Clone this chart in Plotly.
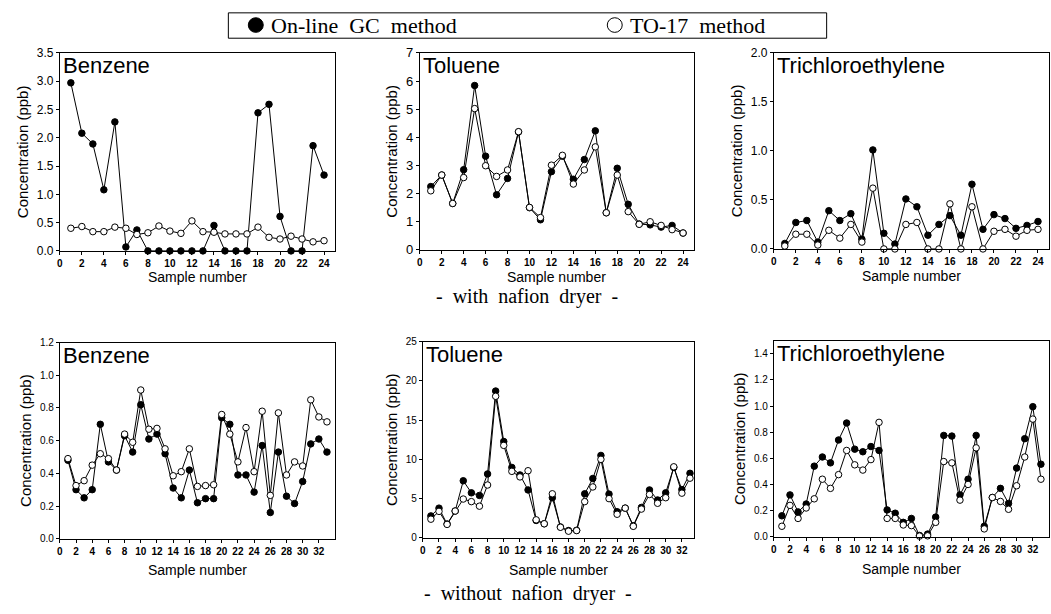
import plotly.graph_objects as go

W, H = 1051, 614

x24 = list(range(1, 25))
x33 = list(range(1, 34))

benz_top_gc = [2.97, 2.08, 1.89, 1.08, 2.28, 0.07, 0.37, 0.0, 0.0, 0.0, 0.0, 0.0, 0.0, 0.45, 0.0, 0.0, 0.0, 2.44, 2.59, 0.61, 0.0, 0.0, 1.86, 1.34]
benz_top_to = [0.40, 0.43, 0.34, 0.34, 0.42, 0.40, 0.29, 0.32, 0.44, 0.35, 0.31, 0.53, 0.34, 0.33, 0.30, 0.30, 0.30, 0.42, 0.24, 0.21, 0.26, 0.21, 0.16, 0.18]

tol_top_gc = [2.25, 2.66, 1.65, 2.85, 5.84, 3.33, 1.96, 2.54, 4.19, 1.50, 1.07, 2.78, 3.33, 2.51, 3.21, 4.23, 1.32, 2.90, 1.62, 0.92, 0.89, 0.81, 0.87, 0.60]
tol_top_to = [2.10, 2.66, 1.65, 2.57, 5.02, 2.99, 2.61, 2.84, 4.20, 1.51, 1.15, 3.01, 3.36, 2.34, 2.84, 3.66, 1.32, 2.66, 1.36, 0.91, 1.00, 0.87, 0.72, 0.60]

tce_top_gc = [0.056, 0.27, 0.29, 0.07, 0.39, 0.29, 0.36, 0.10, 1.01, 0.16, 0.05, 0.51, 0.43, 0.14, 0.25, 0.34, 0.14, 0.66, 0.20, 0.35, 0.31, 0.21, 0.24, 0.28]
tce_top_to = [0.03, 0.15, 0.15, 0.04, 0.19, 0.11, 0.25, 0.07, 0.62, 0.0, 0.0, 0.25, 0.27, 0.0, 0.0, 0.46, 0.0, 0.43, 0.0, 0.18, 0.20, 0.13, 0.19, 0.20]

benz_bot_gc = [0.48, 0.30, 0.25, 0.30, 0.70, 0.47, 0.42, 0.63, 0.53, 0.82, 0.61, 0.64, 0.52, 0.31, 0.25, 0.42, 0.22, 0.245, 0.245, 0.74, 0.70, 0.39, 0.39, 0.285, 0.57, 0.16, 0.53, 0.26, 0.215, 0.35, 0.58, 0.61, 0.53]
benz_bot_to = [0.49, 0.325, 0.355, 0.45, 0.52, 0.49, 0.42, 0.64, 0.59, 0.91, 0.67, 0.675, 0.55, 0.385, 0.41, 0.55, 0.32, 0.325, 0.33, 0.76, 0.64, 0.47, 0.68, 0.41, 0.78, 0.265, 0.77, 0.39, 0.47, 0.445, 0.85, 0.745, 0.715]

tol_bot_gc = [2.78, 3.77, 1.74, 3.40, 7.26, 5.72, 5.39, 8.13, 18.7, 12.27, 8.96, 8.00, 6.09, 2.20, 1.78, 5.10, 1.37, 0.91, 0.95, 5.60, 7.55, 10.49, 5.56, 3.32, 3.77, 1.53, 3.86, 6.09, 4.81, 5.72, 8.96, 6.14, 8.21]
tol_bot_to = [2.36, 3.36, 1.70, 3.40, 4.93, 4.60, 4.02, 6.72, 18.03, 11.77, 8.46, 7.75, 8.54, 2.28, 1.78, 5.60, 1.33, 0.83, 0.91, 4.60, 6.47, 9.99, 4.98, 2.99, 3.77, 1.45, 3.65, 5.51, 4.39, 5.10, 9.04, 5.68, 7.59]

tce_bot_gc = [0.16, 0.32, 0.19, 0.25, 0.54, 0.61, 0.565, 0.74, 0.87, 0.67, 0.65, 0.69, 0.66, 0.205, 0.18, 0.11, 0.14, 0.01, 0.02, 0.15, 0.775, 0.77, 0.32, 0.44, 0.775, 0.08, 0.30, 0.37, 0.255, 0.525, 0.75, 0.995, 0.555]
tce_bot_to = [0.08, 0.24, 0.14, 0.22, 0.29, 0.44, 0.37, 0.475, 0.66, 0.55, 0.51, 0.59, 0.875, 0.14, 0.14, 0.09, 0.085, 0.005, 0.007, 0.11, 0.575, 0.565, 0.28, 0.40, 0.68, 0.06, 0.30, 0.27, 0.21, 0.39, 0.61, 0.90, 0.44]

panel_titles = ["Benzene", "Toluene", "Trichloroethylene", "Benzene", "Toluene", "Trichloroethylene"]
legend_labels = ["On-line GC method", "TO-17 method"]
subtitles = ["-  with  nafion  dryer  -", "-  without  nafion  dryer  -"]
x_title = "Sample number"
y_title = "Concentration (ppb)"

panels = [
    dict(x=x24, gc=benz_top_gc, to=benz_top_to, xr=[0, 25], yr=[0, 3.5], dt=0.5, fmt=".1f", px=(57, 333), py=(47, 250), xmax=24, yfs=12, xt=277),
    dict(x=x24, gc=tol_top_gc, to=tol_top_to, xr=[0, 25], yr=[0, 7], dt=1, fmt="d", px=(418, 693), py=(47, 249), xmax=24, yfs=13, xt=277),
    dict(x=x24, gc=tce_top_gc, to=tce_top_to, xr=[0, 25], yr=[0, 2.0], dt=0.5, fmt=".1f", px=(773, 1049), py=(47, 248), xmax=24, yfs=12, xt=276),
    dict(x=x33, gc=benz_bot_gc, to=benz_bot_to, xr=[0, 34], yr=[0, 1.2], dt=0.2, fmt=".1f", px=(57, 333), py=(344, 545), xmax=32, yfs=10, xt=577),
    dict(x=x33, gc=tol_bot_gc, to=tol_bot_to, xr=[0, 33.5], yr=[0, 25], dt=5, fmt="d", px=(421, 693), py=(343, 544), xmax=32, yfs=10, xt=577),
    dict(x=x33, gc=tce_bot_gc, to=tce_bot_to, xr=[0, 34], yr=[0, 1.5], dt=0.2, fmt=".1f", px=(773, 1049), py=(342, 543), xmax=32, yfs=10, xt=576),
]

fig = go.Figure()
layout = {}
annotations = []
sans = "Liberation Sans, Arial"

for i, p in enumerate(panels):
    n = i + 1
    xa = "x" if n == 1 else f"x{n}"
    ya = "y" if n == 1 else f"y{n}"
    fig.add_trace(go.Scatter(x=p["x"], y=p["gc"], xaxis=xa, yaxis=ya, mode="lines+markers",
                             line=dict(color="black", width=1),
                             marker=dict(symbol="circle", size=6.5, color="black", line=dict(color="black", width=1)),
                             showlegend=False, cliponaxis=False))
    fig.add_trace(go.Scatter(x=p["x"], y=p["to"], xaxis=xa, yaxis=ya, mode="lines+markers",
                             line=dict(color="black", width=1),
                             marker=dict(symbol="circle", size=6.5, color="white", line=dict(color="black", width=1)),
                             showlegend=False, cliponaxis=False))
    xk = "xaxis" if n == 1 else f"xaxis{n}"
    yk = "yaxis" if n == 1 else f"yaxis{n}"
    ytop = p["yr"][1]
    yvals = []
    v = 0.0
    while v <= ytop + 1e-9:
        yvals.append(round(v, 3))
        v += p["dt"]
    ytext = [format(val, ".1f") if p["fmt"] == ".1f" else str(int(round(val))) for val in yvals]
    layout[xk] = dict(domain=[p["px"][0] / W, p["px"][1] / W], range=p["xr"], anchor=ya,
                      tickvals=list(range(0, p["xmax"] + 1, 2)), ticks="outside", ticklen=3,
                      tickcolor="black", showline=True, linecolor="black", linewidth=1, mirror=True,
                      showgrid=False, zeroline=False,
                      tickfont=dict(family=sans, size=10, color="black", weight="bold"))
    layout[yk] = dict(domain=[1 - p["py"][1] / H, 1 - p["py"][0] / H], range=p["yr"], anchor=xa,
                      tickvals=yvals, ticktext=ytext, ticks="outside", ticklen=3, tickcolor="black",
                      showline=True, linecolor="black", linewidth=1, mirror=True,
                      showgrid=False, zeroline=False,
                      tickfont=dict(family=sans, size=p["yfs"], color="black"),
                      title=dict(text=y_title, font=dict(family=sans, size=15, color="black"), standoff=4))
    annotations.append(dict(text=panel_titles[i], xref=f"{xa} domain", yref=f"{ya} domain", x=0.005, y=1.01,
                            xanchor="left", yanchor="top", showarrow=False,
                            font=dict(family=sans, size=22, color="black")))
    annotations.append(dict(text=x_title, xref=f"{xa} domain", yref="paper", x=0.5, y=1 - p["xt"] / H,
                            xanchor="center", yanchor="middle", showarrow=False,
                            font=dict(family=sans, size=14, color="black")))

# legend box
shapes = [
    dict(type="rect", xref="paper", yref="paper", x0=226 / W, x1=826 / W, y0=1 - 32 / H, y1=1 - 6 / H,
         line=dict(color="black", width=1), fillcolor="white"),
    dict(type="circle", xref="paper", yref="paper", x0=246 / W, x1=261 / W, y0=1 - 26 / H, y1=1 - 11 / H,
         line=dict(color="black", width=1), fillcolor="black"),
    dict(type="circle", xref="paper", yref="paper", x0=606 / W, x1=621 / W, y0=1 - 26 / H, y1=1 - 11 / H,
         line=dict(color="black", width=1), fillcolor="white"),
]
serif = "Liberation Serif, Times New Roman"
annotations.append(dict(text=legend_labels[0].replace(" ", "&nbsp;&nbsp;"), xref="paper", yref="paper", x=267 / W, y=1 - 19 / H,
                        xanchor="left", yanchor="middle", showarrow=False, font=dict(family=serif, size=22, color="black")))
annotations.append(dict(text=legend_labels[1].replace(" ", "&nbsp;&nbsp;"), xref="paper", yref="paper", x=627 / W, y=1 - 19 / H,
                        xanchor="left", yanchor="middle", showarrow=False, font=dict(family=serif, size=22, color="black")))
annotations.append(dict(text=subtitles[0].replace(" ", "&nbsp;"), xref="paper", yref="paper", x=526 / W, y=1 - 297 / H,
                        xanchor="center", yanchor="middle", showarrow=False, font=dict(family=serif, size=20, color="black")))
annotations.append(dict(text=subtitles[1].replace(" ", "&nbsp;"), xref="paper", yref="paper", x=527 / W, y=1 - 601 / H,
                        xanchor="center", yanchor="middle", showarrow=False, font=dict(family=serif, size=20, color="black")))

fig.update_layout(width=W, height=H, margin=dict(l=0, r=0, t=0, b=0), paper_bgcolor="white",
                  plot_bgcolor="white", showlegend=False, annotations=annotations, shapes=shapes, **layout)
fig.write_html("out.html", config={"displayModeBar": False},
               post_script="document.body.style.margin='0px';document.body.style.overflow='hidden';")
